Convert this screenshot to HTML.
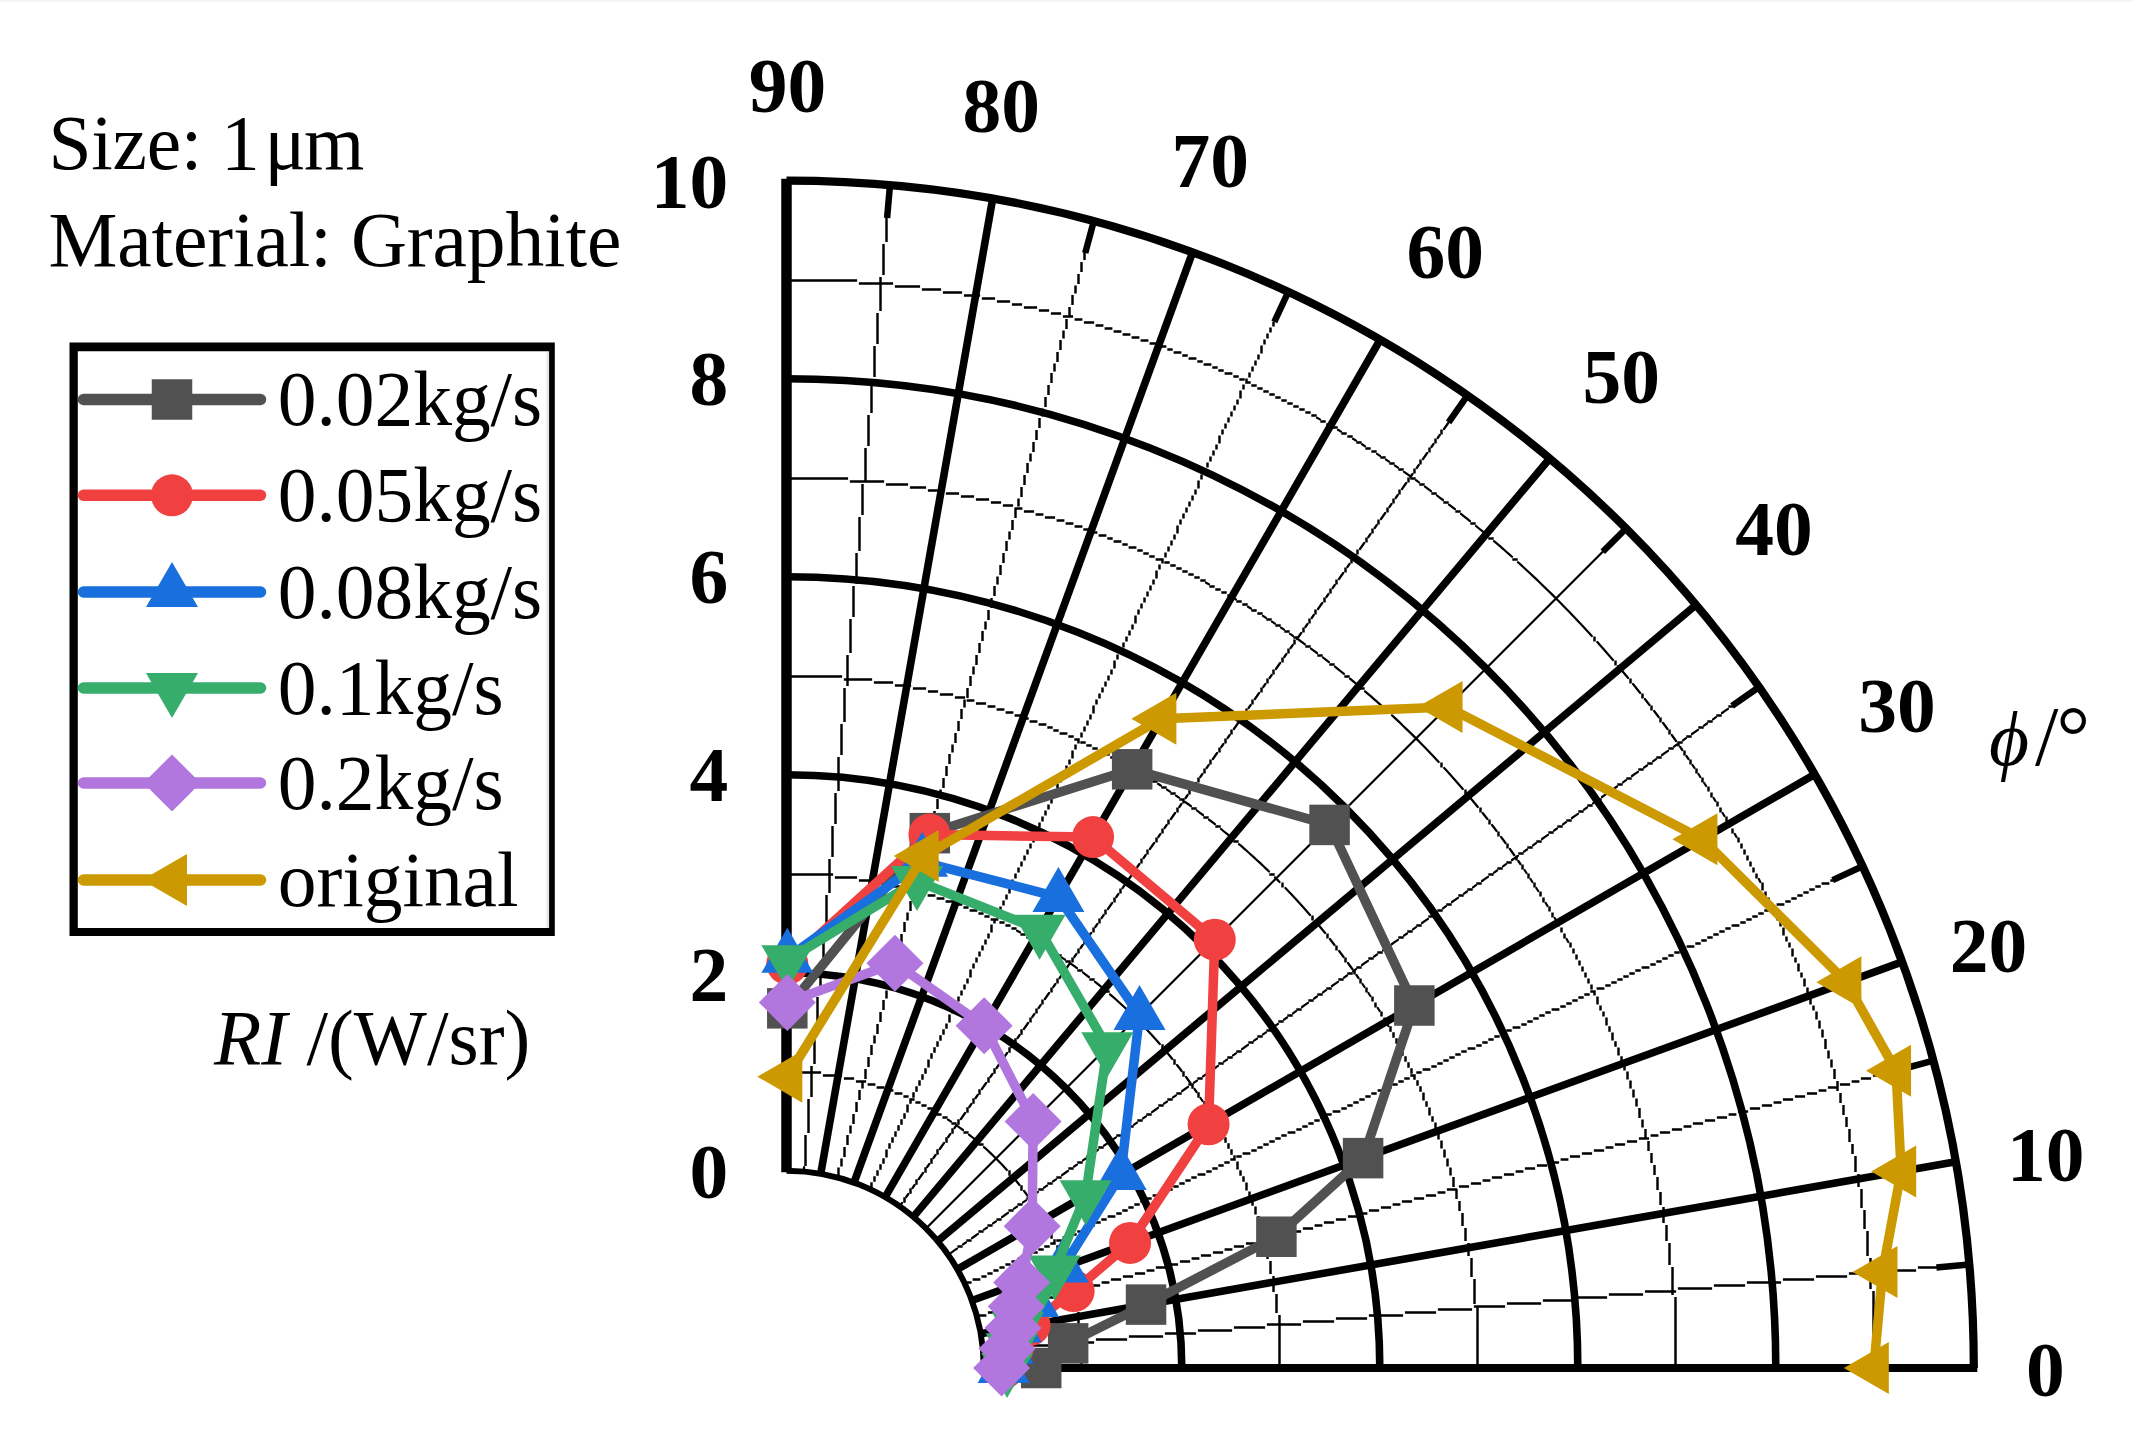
<!DOCTYPE html>
<html><head><meta charset="utf-8"><title>Polar chart</title>
<style>html,body{margin:0;padding:0;background:#fff;}body{width:2133px;height:1450px;overflow:hidden;}svg{display:block;}text{font-family:"Liberation Serif", serif;font-size:77.5px;fill:#000;}</style></head><body>
<svg width="2133" height="1450" viewBox="0 0 2133 1450">
<rect width="2133" height="1450" fill="#fff"/>
<rect width="2133" height="2" fill="#f5f5f5"/>
<g fill="none" stroke="#000">
<path stroke-width="2.45" d="M789.9 1072.5H821.1M822.9 1075.5H842.1M843.9 1078.5H854.1M855.9 1081.5H866.1M867.6 1084.5H875.4M876.6 1087.5H884.4M885.6 1090.5H893.4M894.6 1093.5H902.4M903.4 1096.5H908.6M909.4 1099.5H914.6M915.4 1102.5H920.6M921.4 1105.5H926.6M927.4 1108.5H932.6M936.4 1114.5H941.6M942.4 1117.5H947.6M951.4 1123.5H956.6M963.4 1132.5H968.6M978.4 1144.5H983.6M1009.5 1170.3V1175.7M1021.5 1185.3V1190.7M1030.5 1197.3V1202.7M1036.5 1206.3V1211.7M1042.5 1215.3V1220.7M1045.5 1221.3V1226.7M1048.5 1227.3V1232.7M1051.5 1233.3V1238.7M1054.5 1239.3V1244.7M1057.5 1245.3V1250.7M1060.5 1251.6V1259.4M1063.5 1260.3V1265.7M1066.5 1266.6V1274.4M1069.5 1275.6V1283.4M1072.5 1284.9V1295.1M1075.5 1296.9V1310.1M1078.5 1311.9V1325.1M1081.5 1326.9V1367.1M789.9 874.5H833.1M834.9 877.5H857.1M858.9 880.5H875.1M876.9 883.5H890.1M891.9 886.5H905.1M906.6 889.5H914.4M915.9 892.5H926.1M927.6 895.5H935.4M936.6 898.5H944.4M945.6 901.5H953.4M954.6 904.5H962.4M963.4 907.5H968.6M969.6 910.5H977.4M978.4 913.5H983.6M984.4 916.5H989.6M990.6 919.5H998.4M999.4 922.5H1004.6M1005.4 925.5H1010.6M1011.4 928.5H1016.6M1020.4 934.5H1025.7M1026.3 937.5H1031.7M1032.3 940.5H1037.7M1041.3 946.5H1046.7M1047.3 949.5H1052.7M1056.3 955.5H1061.7M1065.3 961.5H1070.7M1077.3 970.5H1082.7M1089.3 979.5H1094.7M1104.3 991.5H1109.7M1162.5 1044.3V1049.7M1174.5 1059.3V1064.7M1183.5 1071.3V1076.7M1192.5 1083.3V1088.7M1198.5 1092.3V1097.7M1204.5 1101.3V1106.7M1210.5 1110.3V1115.7M1213.5 1116.3V1121.7M1216.5 1122.3V1127.7M1222.5 1131.3V1136.7M1225.5 1137.3V1142.7M1228.5 1143.3V1148.7M1231.5 1149.3V1154.7M1234.5 1155.3V1160.7M1237.5 1161.6V1169.4M1240.5 1170.3V1175.7M1243.5 1176.3V1181.7M1246.5 1182.6V1190.4M1249.5 1191.6V1199.4M1252.5 1200.3V1205.7M1255.5 1206.6V1214.4M1258.5 1215.9V1226.1M1261.5 1227.6V1235.4M1264.5 1236.9V1247.1M1267.5 1248.9V1259.1M1270.5 1260.9V1274.1M1273.5 1275.9V1292.1M1276.5 1293.9V1313.1M1279.5 1314.9V1367.1M789.9 676.5H842.1M843.9 679.5H872.1M873.9 682.5H893.1M894.9 685.5H911.1M912.9 688.5H926.1M927.9 691.5H938.1M939.9 694.5H953.1M954.9 697.5H965.1M966.6 700.5H974.4M975.9 703.5H986.1M987.6 706.5H995.4M996.6 709.5H1004.4M1005.6 712.5H1013.4M1014.6 715.5H1022.4M1023.4 718.5H1028.7M1029.6 721.5H1037.4M1038.6 724.5H1046.4M1047.3 727.5H1052.7M1053.3 730.5H1058.7M1059.6 733.5H1067.4M1068.3 736.5H1073.7M1074.3 739.5H1079.7M1080.3 742.5H1085.7M1086.3 745.5H1091.7M1092.3 748.5H1097.7M1098.3 751.5H1103.7M1104.3 754.5H1109.7M1110.3 757.5H1115.7M1116.3 760.5H1121.7M1122.3 763.5H1127.7M1131.3 769.5H1136.7M1137.3 772.5H1142.7M1146.3 778.5H1151.7M1152.3 781.5H1157.7M1161.3 787.5H1166.7M1170.3 793.5H1175.7M1179.3 799.5H1184.7M1191.3 808.5H1196.7M1203.3 817.5H1208.7M1215.3 826.5H1220.7M1233.3 841.5H1238.7M1269.3 874.5H1274.7M1282.5 882.4V887.6M1312.5 915.4V920.6M1327.5 933.4V938.6M1336.5 945.4V950.6M1345.5 957.4V962.6M1354.5 969.4V974.6M1360.5 978.4V983.6M1366.5 987.4V992.6M1372.5 996.4V1001.6M1375.5 1002.4V1007.6M1381.5 1011.4V1016.6M1384.5 1017.4V1022.6M1390.5 1026.3V1031.7M1393.5 1032.3V1037.7M1396.5 1038.3V1043.7M1399.5 1044.3V1049.7M1402.5 1050.3V1055.7M1405.5 1056.3V1061.7M1408.5 1062.3V1067.7M1411.5 1068.3V1073.7M1414.5 1074.3V1079.7M1417.5 1080.3V1085.7M1420.5 1086.3V1091.7M1423.5 1092.6V1100.4M1426.5 1101.3V1106.7M1429.5 1107.6V1115.4M1432.5 1116.3V1121.7M1435.5 1122.6V1130.4M1438.5 1131.6V1139.4M1441.5 1140.6V1148.4M1444.5 1149.6V1157.4M1447.5 1158.6V1166.4M1450.5 1167.6V1175.4M1453.5 1176.9V1187.1M1456.5 1188.9V1199.1M1459.5 1200.9V1211.1M1462.5 1212.9V1226.1M1465.5 1227.9V1241.1M1468.5 1242.9V1256.1M1471.5 1257.9V1277.1M1474.5 1278.9V1304.1M1477.5 1305.9V1367.1M789.9 478.5H848.1M849.9 481.5H884.1M885.9 484.5H908.1M909.9 487.5H926.1M927.9 490.5H944.1M945.9 493.5H959.1M960.9 496.5H974.1M975.9 499.5H989.1M990.9 502.5H1001.1M1002.9 505.5H1013.1M1014.6 508.5H1022.4M1023.9 511.5H1034.1M1035.6 514.5H1043.4M1044.9 517.5H1055.1M1056.6 520.5H1064.4M1065.6 523.5H1073.4M1074.6 526.5H1082.4M1083.3 529.5H1088.7M1089.6 532.5H1097.4M1098.6 535.5H1106.4M1107.3 538.5H1112.7M1113.6 541.5H1121.4M1122.3 544.5H1127.7M1128.6 547.5H1136.4M1137.3 550.5H1142.7M1143.3 553.5H1148.7M1149.3 556.5H1154.7M1155.6 559.5H1163.4M1164.3 562.5H1169.7M1170.3 565.5H1175.7M1176.3 568.5H1181.7M1182.3 571.5H1187.7M1188.3 574.5H1193.7M1194.3 577.5H1199.7M1200.3 580.5H1205.7M1209.3 586.5H1214.7M1215.3 589.5H1220.7M1221.3 592.5H1226.7M1227.3 595.5H1232.7M1236.3 601.5H1241.7M1242.3 604.5H1247.7M1251.3 610.5H1256.7M1257.3 613.5H1262.7M1266.3 619.5H1271.7M1275.3 625.5H1280.7M1284.3 631.5H1289.7M1293.3 637.5H1298.7M1305.3 646.5H1310.7M1317.3 655.5H1322.7M1329.3 664.5H1334.7M1344.3 676.5H1349.7M1359.3 688.5H1364.7M1386.3 712.5H1391.7M1441.5 762.4V767.6M1465.5 789.4V794.6M1480.5 807.4V812.6M1489.5 819.4V824.6M1498.5 831.4V836.6M1507.5 843.4V848.6M1516.5 855.4V860.6M1522.5 864.4V869.6M1528.5 873.4V878.6M1534.5 882.4V887.6M1540.5 891.4V896.6M1543.5 897.4V902.6M1549.5 906.4V911.6M1552.5 912.4V917.6M1558.5 921.4V926.6M1561.5 927.4V932.6M1564.5 933.4V938.6M1570.5 942.4V947.6M1573.5 948.4V953.6M1576.5 954.4V959.6M1579.5 960.4V965.6M1582.5 966.4V971.6M1585.5 972.4V977.6M1588.5 978.4V983.6M1591.5 984.4V989.6M1594.5 990.4V995.6M1597.5 996.6V1004.4M1600.5 1005.4V1010.6M1603.5 1011.4V1016.6M1606.5 1017.6V1025.4M1609.5 1026.3V1031.7M1612.5 1032.6V1040.4M1615.5 1041.3V1046.7M1618.5 1047.6V1055.4M1621.5 1056.3V1061.7M1624.5 1062.6V1070.4M1627.5 1071.6V1079.4M1630.5 1080.6V1088.4M1633.5 1089.6V1097.4M1636.5 1098.6V1106.4M1639.5 1107.9V1118.1M1642.5 1119.6V1127.4M1645.5 1128.9V1139.1M1648.5 1140.9V1151.1M1651.5 1152.9V1163.1M1654.5 1164.9V1175.1M1657.5 1176.9V1190.1M1660.5 1191.9V1205.1M1663.5 1206.9V1223.1M1666.5 1224.9V1241.1M1669.5 1242.9V1265.1M1672.5 1266.9V1295.1M1675.5 1296.9V1367.1M789.9 280.5H857.1M858.9 283.5H893.1M894.9 286.5H920.1M921.9 289.5H941.1M942.9 292.5H962.1M963.9 295.5H980.1M981.9 298.5H995.1M996.9 301.5H1010.1M1011.9 304.5H1022.1M1023.9 307.5H1037.1M1038.9 310.5H1049.1M1050.9 313.5H1061.1M1062.9 316.5H1073.1M1074.6 319.5H1082.4M1083.9 322.5H1094.1M1095.6 325.5H1103.4M1104.6 328.5H1112.4M1113.6 331.5H1121.4M1122.6 334.5H1130.4M1131.6 337.5H1139.4M1140.6 340.5H1148.4M1149.6 343.5H1157.4M1158.6 346.5H1166.4M1167.3 349.5H1172.7M1173.6 352.5H1181.4M1182.3 355.5H1187.7M1188.6 358.5H1196.4M1197.3 361.5H1202.7M1203.6 364.5H1211.4M1212.3 367.5H1217.7M1218.3 370.5H1223.7M1224.6 373.5H1232.4M1233.3 376.5H1238.7M1239.3 379.5H1244.7M1245.3 382.5H1250.7M1251.3 385.5H1256.7M1257.3 388.5H1262.7M1263.3 391.5H1268.7M1269.3 394.5H1274.7M1275.3 397.5H1280.7M1281.3 400.5H1286.7M1287.3 403.5H1292.7M1293.3 406.5H1298.7M1299.3 409.5H1304.7M1305.3 412.5H1310.7M1311.3 415.5H1316.7M1320.3 421.5H1325.7M1326.3 424.5H1331.7M1332.3 427.5H1337.7M1341.3 433.5H1346.7M1347.3 436.5H1352.7M1356.3 442.5H1361.7M1365.3 448.5H1370.7M1371.3 451.5H1376.7M1380.3 457.5H1385.7M1389.3 463.5H1394.7M1398.3 469.5H1403.7M1410.3 478.5H1415.7M1419.3 484.5H1424.7M1431.3 493.5H1436.7M1443.3 502.5H1448.7M1455.3 511.5H1460.7M1470.3 523.5H1475.7M1488.3 538.5H1493.7M1512.3 559.5H1517.7M1594.5 636.4V641.6M1615.5 660.4V665.6M1630.5 678.4V683.6M1642.5 693.4V698.6M1651.5 705.4V710.6M1660.5 717.4V722.6M1669.5 729.4V734.6M1678.5 741.4V746.6M1684.5 750.4V755.6M1690.5 759.4V764.6M1696.5 768.4V773.6M1702.5 777.4V782.6M1708.5 786.4V791.6M1711.5 792.4V797.6M1717.5 801.4V806.6M1720.5 807.4V812.6M1726.5 816.4V821.6M1729.5 822.4V827.6M1732.5 828.4V833.6M1738.5 837.4V842.6M1741.5 843.4V848.6M1744.5 849.4V854.6M1747.5 855.4V860.6M1750.5 861.4V866.6M1753.5 867.4V872.6M1756.5 873.4V878.6M1762.5 882.6V890.4M1765.5 891.4V896.6M1768.5 897.4V902.6M1771.5 903.4V908.6M1774.5 909.4V914.6M1777.5 915.4V920.6M1780.5 921.4V926.6M1783.5 927.6V935.4M1786.5 936.4V941.6M1789.5 942.4V947.6M1792.5 948.6V956.4M1795.5 957.4V962.6M1798.5 963.6V971.4M1801.5 972.4V977.6M1804.5 978.6V986.4M1807.5 987.6V995.4M1810.5 996.6V1004.4M1813.5 1005.4V1010.6M1816.5 1011.6V1019.4M1819.5 1020.6V1028.4M1822.5 1029.6V1037.4M1825.5 1038.9V1049.1M1828.5 1050.6V1058.4M1831.5 1059.6V1067.4M1834.5 1068.9V1079.1M1837.5 1080.9V1091.1M1840.5 1092.9V1103.1M1843.5 1104.9V1115.1M1846.5 1116.9V1127.1M1849.5 1128.9V1142.1M1852.5 1143.9V1154.1M1855.5 1155.9V1172.1M1858.5 1173.9V1187.1M1861.5 1188.9V1208.1M1864.5 1209.9V1229.1M1867.5 1230.9V1256.1M1870.5 1257.9V1289.1M1873.5 1290.9V1367.1M984.6 1351.5H992.4M993.9 1348.5H1025.1M1026.9 1345.5H1061.1M1062.9 1342.5H1094.1M1095.9 1339.5H1127.1M1128.9 1336.5H1163.1M1164.9 1333.5H1196.1M1197.9 1330.5H1232.1M1233.9 1327.5H1265.1M1266.9 1324.5H1301.1M1302.9 1321.5H1334.1M1335.9 1318.5H1367.1M1368.9 1315.5H1403.1M1404.9 1312.5H1436.1M1437.9 1309.5H1472.1M1473.9 1306.5H1505.1M1506.9 1303.5H1541.1M1542.9 1300.5H1574.1M1575.9 1297.5H1607.1M1608.9 1294.5H1643.1M1644.9 1291.5H1676.1M1677.9 1288.5H1712.1M1713.9 1285.5H1745.1M1746.9 1282.5H1781.1M1782.9 1279.5H1814.1M1815.9 1276.5H1847.1M1848.9 1273.5H1883.1M1884.9 1270.5H1916.1M1917.9 1267.5H1952.1M1953.9 1264.5H1967.1M978.6 1315.5H986.4M987.9 1312.5H998.1M999.9 1309.5H1010.1M1011.9 1306.5H1022.1M1023.6 1303.5H1031.4M1032.9 1300.5H1043.1M1044.9 1297.5H1055.1M1056.6 1294.5H1064.4M1065.9 1291.5H1076.1M1077.9 1288.5H1088.1M1089.9 1285.5H1100.1M1101.6 1282.5H1109.4M1110.9 1279.5H1121.1M1122.9 1276.5H1133.1M1134.9 1273.5H1145.1M1146.6 1270.5H1154.4M1155.9 1267.5H1166.1M1167.9 1264.5H1178.1M1179.9 1261.5H1190.1M1191.6 1258.5H1199.4M1200.9 1255.5H1211.1M1212.9 1252.5H1223.1M1224.6 1249.5H1232.4M1233.9 1246.5H1244.1M1245.9 1243.5H1256.1M1257.9 1240.5H1268.1M1269.6 1237.5H1277.4M1278.9 1234.5H1289.1M1290.9 1231.5H1301.1M1302.9 1228.5H1313.1M1314.6 1225.5H1322.4M1323.9 1222.5H1334.1M1335.9 1219.5H1346.1M1347.9 1216.5H1358.1M1359.6 1213.5H1367.4M1368.9 1210.5H1379.1M1380.9 1207.5H1391.1M1392.6 1204.5H1400.4M1401.9 1201.5H1412.1M1413.9 1198.5H1424.1M1425.9 1195.5H1436.1M1437.6 1192.5H1445.4M1446.9 1189.5H1457.1M1458.9 1186.5H1469.1M1470.9 1183.5H1481.1M1482.6 1180.5H1490.4M1491.9 1177.5H1502.1M1503.9 1174.5H1514.1M1515.6 1171.5H1523.4M1524.9 1168.5H1535.1M1536.9 1165.5H1547.1M1548.9 1162.5H1559.1M1560.6 1159.5H1568.4M1569.9 1156.5H1580.1M1581.9 1153.5H1592.1M1593.9 1150.5H1604.1M1605.6 1147.5H1613.4M1614.9 1144.5H1625.1M1626.9 1141.5H1637.1M1638.9 1138.5H1649.1M1650.6 1135.5H1658.4M1659.9 1132.5H1670.1M1671.9 1129.5H1682.1M1683.6 1126.5H1691.4M1692.9 1123.5H1703.1M1704.9 1120.5H1715.1M1716.9 1117.5H1727.1M1728.6 1114.5H1736.4M1737.9 1111.5H1748.1M1749.9 1108.5H1760.1M1761.9 1105.5H1772.1M1773.6 1102.5H1781.4M1782.9 1099.5H1793.1M1794.9 1096.5H1805.1M1806.9 1093.5H1817.1M1818.6 1090.5H1826.4M1827.9 1087.5H1838.1M1839.9 1084.5H1850.1M1851.6 1081.5H1859.4M1860.9 1078.5H1871.1M1872.9 1075.5H1883.1M1884.9 1072.5H1895.1M1896.6 1069.5H1904.4M1905.9 1066.5H1916.1M1917.9 1063.5H1928.1M966.4 1282.5H971.6M972.6 1279.5H980.4M981.4 1276.5H986.6M987.4 1273.5H992.6M993.4 1270.5H998.6M999.4 1267.5H1004.6M1005.4 1264.5H1010.6M1011.4 1261.5H1016.6M1017.6 1258.5H1025.4M1026.3 1255.5H1031.7M1032.3 1252.5H1037.7M1038.3 1249.5H1043.7M1044.3 1246.5H1049.7M1050.3 1243.5H1055.7M1056.3 1240.5H1061.7M1062.6 1237.5H1070.4M1071.3 1234.5H1076.7M1077.3 1231.5H1082.7M1083.3 1228.5H1088.7M1089.3 1225.5H1094.7M1095.3 1222.5H1100.7M1101.3 1219.5H1106.7M1107.6 1216.5H1115.4M1116.3 1213.5H1121.7M1122.3 1210.5H1127.7M1128.3 1207.5H1133.7M1134.3 1204.5H1139.7M1140.3 1201.5H1145.7M1146.3 1198.5H1151.7M1152.6 1195.5H1160.4M1161.3 1192.5H1166.7M1167.3 1189.5H1172.7M1173.3 1186.5H1178.7M1179.3 1183.5H1184.7M1185.3 1180.5H1190.7M1191.3 1177.5H1196.7M1197.6 1174.5H1205.4M1206.3 1171.5H1211.7M1212.3 1168.5H1217.7M1218.3 1165.5H1223.7M1224.3 1162.5H1229.7M1230.3 1159.5H1235.7M1236.3 1156.5H1241.7M1242.6 1153.5H1250.4M1251.3 1150.5H1256.7M1257.3 1147.5H1262.7M1263.3 1144.5H1268.7M1269.3 1141.5H1274.7M1275.3 1138.5H1280.7M1281.3 1135.5H1286.7M1287.6 1132.5H1295.4M1296.3 1129.5H1301.7M1302.3 1126.5H1307.7M1308.3 1123.5H1313.7M1314.3 1120.5H1319.7M1320.3 1117.5H1325.7M1326.3 1114.5H1331.7M1332.6 1111.5H1340.4M1341.3 1108.5H1346.7M1347.3 1105.5H1352.7M1353.3 1102.5H1358.7M1359.3 1099.5H1364.7M1365.3 1096.5H1370.7M1371.3 1093.5H1376.7M1377.6 1090.5H1385.4M1386.3 1087.5H1391.7M1392.3 1084.5H1397.7M1398.3 1081.5H1403.7M1404.3 1078.5H1409.7M1410.3 1075.5H1415.7M1416.3 1072.5H1421.7M1422.6 1069.5H1430.4M1431.3 1066.5H1436.7M1437.3 1063.5H1442.7M1443.3 1060.5H1448.7M1449.3 1057.5H1454.7M1455.3 1054.5H1460.7M1461.3 1051.5H1466.7M1467.6 1048.5H1475.4M1476.3 1045.5H1481.7M1482.3 1042.5H1487.7M1488.3 1039.5H1493.7M1494.3 1036.5H1499.7M1500.3 1033.5H1505.7M1506.3 1030.5H1511.7M1512.6 1027.5H1520.4M1521.3 1024.5H1526.7M1527.3 1021.5H1532.7M1533.3 1018.5H1538.7M1539.3 1015.5H1544.7M1545.3 1012.5H1550.7M1551.6 1009.5H1559.4M1560.3 1006.5H1565.7M1566.3 1003.5H1571.7M1572.3 1000.5H1577.7M1578.3 997.5H1583.7M1584.3 994.5H1589.7M1590.3 991.5H1595.7M1596.6 988.5H1604.4M1605.3 985.5H1610.7M1611.3 982.5H1616.7M1617.3 979.5H1622.7M1623.3 976.5H1628.7M1629.3 973.5H1634.7M1635.3 970.5H1640.7M1641.6 967.5H1649.4M1650.3 964.5H1655.7M1656.3 961.5H1661.7M1662.3 958.5H1667.7M1668.3 955.5H1673.7M1674.3 952.5H1679.7M1680.3 949.5H1685.7M1686.6 946.5H1694.4M1695.3 943.5H1700.7M1701.3 940.5H1706.7M1707.3 937.5H1712.7M1713.3 934.5H1718.7M1719.3 931.5H1724.7M1725.3 928.5H1730.7M1731.6 925.5H1739.4M1740.3 922.5H1745.7M1746.3 919.5H1751.7M1752.3 916.5H1757.7M1758.3 913.5H1763.7M1764.3 910.5H1769.7M1770.3 907.5H1775.7M1776.6 904.5H1784.4M1785.3 901.5H1790.7M1791.3 898.5H1796.7M1797.3 895.5H1802.7M1803.3 892.5H1808.7M1809.3 889.5H1814.7M1815.3 886.5H1820.7M1821.6 883.5H1829.4M1830.3 880.5H1835.7M1836.3 877.5H1841.7M1842.3 874.5H1847.7M1848.3 871.5H1853.7M1854.3 868.5H1859.7M957.4 1246.5H962.6M966.4 1240.5H971.6M978.4 1231.5H983.6M987.4 1225.5H992.6M996.4 1219.5H1001.6M1008.4 1210.5H1013.6M1017.4 1204.5H1022.6M1026.3 1198.5H1031.7M1038.3 1189.5H1043.7M1047.3 1183.5H1052.7M1056.3 1177.5H1061.7M1068.3 1168.5H1073.7M1077.3 1162.5H1082.7M1086.3 1156.5H1091.7M1098.3 1147.5H1103.7M1107.3 1141.5H1112.7M1116.3 1135.5H1121.7M1128.3 1126.5H1133.7M1137.3 1120.5H1142.7M1146.3 1114.5H1151.7M1158.3 1105.5H1163.7M1167.3 1099.5H1172.7M1176.3 1093.5H1181.7M1188.3 1084.5H1193.7M1197.3 1078.5H1202.7M1206.3 1072.5H1211.7M1218.3 1063.5H1223.7M1227.3 1057.5H1232.7M1236.3 1051.5H1241.7M1248.3 1042.5H1253.7M1257.3 1036.5H1262.7M1266.3 1030.5H1271.7M1278.3 1021.5H1283.7M1287.3 1015.5H1292.7M1296.3 1009.5H1301.7M1308.3 1000.5H1313.7M1317.3 994.5H1322.7M1326.3 988.5H1331.7M1338.3 979.5H1343.7M1347.3 973.5H1352.7M1356.3 967.5H1361.7M1368.3 958.5H1373.7M1377.3 952.5H1382.7M1386.3 946.5H1391.7M1398.3 937.5H1403.7M1407.3 931.5H1412.7M1416.3 925.5H1421.7M1428.3 916.5H1433.7M1437.3 910.5H1442.7M1446.3 904.5H1451.7M1458.3 895.5H1463.7M1467.3 889.5H1472.7M1476.3 883.5H1481.7M1488.3 874.5H1493.7M1497.3 868.5H1502.7M1506.3 862.5H1511.7M1518.3 853.5H1523.7M1527.3 847.5H1532.7M1536.3 841.5H1541.7M1548.3 832.5H1553.7M1557.3 826.5H1562.7M1566.3 820.5H1571.7M1578.3 811.5H1583.7M1587.3 805.5H1592.7M1596.3 799.5H1601.7M1608.3 790.5H1613.7M1617.3 784.5H1622.7M1626.3 778.5H1631.7M1638.3 769.5H1643.7M1647.3 763.5H1652.7M1656.3 757.5H1661.7M1668.3 748.5H1673.7M1677.3 742.5H1682.7M1686.3 736.5H1691.7M1698.3 727.5H1703.7M1707.3 721.5H1712.7M1716.3 715.5H1721.7M1728.3 706.5H1733.7M1737.3 700.5H1742.7M1749.3 691.5H1754.7M1462.5 399.4V404.6M1456.5 408.4V413.6M1450.5 417.4V422.6M1441.5 429.4V434.6M1435.5 438.4V443.6M1429.5 447.4V452.6M1420.5 459.4V464.6M1414.5 468.4V473.6M1408.5 477.4V482.6M1399.5 489.4V494.6M1393.5 498.4V503.6M1387.5 507.4V512.6M1378.5 519.4V524.6M1372.5 528.4V533.6M1366.5 537.4V542.6M1357.5 549.4V554.6M1351.5 558.4V563.6M1345.5 567.4V572.6M1336.5 579.4V584.6M1330.5 588.4V593.6M1324.5 597.4V602.6M1315.5 609.4V614.6M1309.5 618.4V623.6M1303.5 627.4V632.6M1294.5 639.4V644.6M1288.5 648.4V653.6M1282.5 657.4V662.6M1273.5 669.4V674.6M1267.5 678.4V683.6M1261.5 687.4V692.6M1252.5 699.4V704.6M1246.5 708.4V713.6M1240.5 717.4V722.6M1231.5 729.4V734.6M1225.5 738.4V743.6M1219.5 747.4V752.6M1210.5 759.4V764.6M1204.5 768.4V773.6M1198.5 777.4V782.6M1189.5 789.4V794.6M1183.5 798.4V803.6M1177.5 807.4V812.6M1168.5 819.4V824.6M1162.5 828.4V833.6M1156.5 837.4V842.6M1147.5 849.4V854.6M1141.5 858.4V863.6M1135.5 867.4V872.6M1126.5 879.4V884.6M1120.5 888.4V893.6M1114.5 897.4V902.6M1105.5 909.4V914.6M1099.5 918.4V923.6M1093.5 927.4V932.6M1084.5 939.4V944.6M1078.5 948.4V953.6M1072.5 957.4V962.6M1063.5 969.4V974.6M1057.5 978.4V983.6M1051.5 987.4V992.6M1042.5 999.4V1004.6M1036.5 1008.4V1013.6M1030.5 1017.4V1022.6M1021.5 1029.3V1034.7M1015.5 1038.3V1043.7M1009.5 1047.3V1052.7M1000.5 1059.3V1064.7M994.5 1068.3V1073.7M988.5 1077.3V1082.7M979.5 1089.3V1094.7M973.5 1098.3V1103.7M967.5 1107.3V1112.7M958.5 1119.3V1124.7M952.5 1128.3V1133.7M946.5 1137.3V1142.7M937.5 1149.3V1154.7M931.5 1158.3V1163.7M925.5 1167.3V1172.7M916.5 1179.3V1184.7M910.5 1188.3V1193.7M904.5 1197.3V1202.7M1285.5 294.4V299.6M1282.5 300.6V308.4M1279.5 309.4V314.6M1276.5 315.4V320.6M1273.5 321.4V326.6M1270.5 327.4V332.6M1267.5 333.4V338.6M1264.5 339.4V344.6M1261.5 345.6V353.4M1258.5 354.4V359.6M1255.5 360.4V365.6M1252.5 366.4V371.6M1249.5 372.4V377.6M1246.5 378.4V383.6M1243.5 384.4V389.6M1240.5 390.6V398.4M1237.5 399.4V404.6M1234.5 405.4V410.6M1231.5 411.4V416.6M1228.5 417.4V422.6M1225.5 423.4V428.6M1222.5 429.4V434.6M1219.5 435.6V443.4M1216.5 444.4V449.6M1213.5 450.4V455.6M1210.5 456.4V461.6M1207.5 462.4V467.6M1204.5 468.4V473.6M1201.5 474.4V479.6M1198.5 480.6V488.4M1195.5 489.4V494.6M1192.5 495.4V500.6M1189.5 501.4V506.6M1186.5 507.4V512.6M1183.5 513.4V518.6M1180.5 519.4V524.6M1177.5 525.6V533.4M1174.5 534.4V539.6M1171.5 540.4V545.6M1168.5 546.4V551.6M1165.5 552.4V557.6M1162.5 558.4V563.6M1159.5 564.4V569.6M1156.5 570.6V578.4M1153.5 579.4V584.6M1150.5 585.4V590.6M1147.5 591.4V596.6M1144.5 597.4V602.6M1141.5 603.4V608.6M1138.5 609.4V614.6M1135.5 615.6V623.4M1132.5 624.4V629.6M1129.5 630.4V635.6M1126.5 636.4V641.6M1123.5 642.4V647.6M1120.5 648.4V653.6M1117.5 654.4V659.6M1114.5 660.6V668.4M1111.5 669.4V674.6M1108.5 675.4V680.6M1105.5 681.4V686.6M1102.5 687.4V692.6M1099.5 693.4V698.6M1096.5 699.4V704.6M1093.5 705.6V713.4M1090.5 714.4V719.6M1087.5 720.4V725.6M1084.5 726.4V731.6M1081.5 732.4V737.6M1078.5 738.4V743.6M1075.5 744.4V749.6M1072.5 750.6V758.4M1069.5 759.4V764.6M1066.5 765.4V770.6M1063.5 771.4V776.6M1060.5 777.4V782.6M1057.5 783.4V788.6M1054.5 789.4V794.6M1051.5 795.6V803.4M1048.5 804.4V809.6M1045.5 810.4V815.6M1042.5 816.4V821.6M1039.5 822.4V827.6M1036.5 828.4V833.6M1033.5 834.6V842.4M1030.5 843.4V848.6M1027.5 849.4V854.6M1024.5 855.4V860.6M1021.5 861.4V866.6M1018.5 867.4V872.6M1015.5 873.4V878.6M1012.5 879.6V887.4M1009.5 888.4V893.6M1006.5 894.4V899.6M1003.5 900.4V905.6M1000.5 906.4V911.6M997.5 912.4V917.6M994.5 918.4V923.6M991.5 924.6V932.4M988.5 933.4V938.6M985.5 939.4V944.6M982.5 945.4V950.6M979.5 951.4V956.6M976.5 957.4V962.6M973.5 963.4V968.6M970.5 969.6V977.4M967.5 978.4V983.6M964.5 984.4V989.6M961.5 990.4V995.6M958.5 996.4V1001.6M955.5 1002.4V1007.6M952.5 1008.4V1013.6M949.5 1014.6V1022.4M946.5 1023.4V1028.7M943.5 1029.3V1034.7M940.5 1035.3V1040.7M937.5 1041.3V1046.7M934.5 1047.3V1052.7M931.5 1053.3V1058.7M928.5 1059.6V1067.4M925.5 1068.3V1073.7M922.5 1074.3V1079.7M919.5 1080.3V1085.7M916.5 1086.3V1091.7M913.5 1092.3V1097.7M910.5 1098.3V1103.7M907.5 1104.6V1112.4M904.5 1113.3V1118.7M901.5 1119.3V1124.7M898.5 1125.3V1130.7M895.5 1131.3V1136.7M892.5 1137.3V1142.7M889.5 1143.3V1148.7M886.5 1149.6V1157.4M883.5 1158.3V1163.7M880.5 1164.3V1169.7M877.5 1170.3V1175.7M874.5 1176.3V1181.7M871.5 1182.3V1187.7M1093.5 222.3V227.7M1090.5 228.9V239.1M1087.5 240.6V248.4M1084.5 249.9V260.1M1081.5 261.9V272.1M1078.5 273.9V284.1M1075.5 285.6V293.4M1072.5 294.9V305.1M1069.5 306.9V317.1M1066.5 318.9V329.1M1063.5 330.6V338.4M1060.5 339.9V350.1M1057.5 351.9V362.1M1054.5 363.6V371.4M1051.5 372.9V383.1M1048.5 384.9V395.1M1045.5 396.9V407.1M1042.5 408.6V416.4M1039.5 417.9V428.1M1036.5 429.9V440.1M1033.5 441.9V452.1M1030.5 453.6V461.4M1027.5 462.9V473.1M1024.5 474.9V485.1M1021.5 486.9V497.1M1018.5 498.6V506.4M1015.5 507.9V518.1M1012.5 519.9V530.1M1009.5 531.6V539.4M1006.5 540.9V551.1M1003.5 552.9V563.1M1000.5 564.9V575.1M997.5 576.6V584.4M994.5 585.9V596.1M991.5 597.9V608.1M988.5 609.9V620.1M985.5 621.6V629.4M982.5 630.9V641.1M979.5 642.9V653.1M976.5 654.9V665.1M973.5 666.6V674.4M970.5 675.9V686.1M967.5 687.9V698.1M964.5 699.6V707.4M961.5 708.9V719.1M958.5 720.9V731.1M955.5 732.9V743.1M952.5 744.6V752.4M949.5 753.9V764.1M946.5 765.9V776.1M943.5 777.9V788.1M940.5 789.6V797.4M937.5 798.9V809.1M934.5 810.9V821.1M931.5 822.6V830.4M928.5 831.9V842.1M925.5 843.9V854.1M922.5 855.9V866.1M919.5 867.6V875.4M916.5 876.9V887.1M913.5 888.9V899.1M910.5 900.9V911.1M907.5 912.6V920.4M904.5 921.9V932.1M901.5 933.9V944.1M898.5 945.9V956.1M895.5 957.6V965.4M892.5 966.9V977.1M889.5 978.9V989.1M886.5 990.6V998.4M883.5 999.9V1010.1M880.5 1011.9V1022.1M877.5 1023.9V1034.1M874.5 1035.6V1043.4M871.5 1044.9V1055.1M868.5 1056.9V1067.1M865.5 1068.9V1079.1M862.5 1080.6V1088.4M859.5 1089.9V1100.1M856.5 1101.9V1112.1M853.5 1113.9V1124.1M850.5 1125.6V1133.4M847.5 1134.9V1145.1M844.5 1146.9V1157.1M841.5 1158.6V1166.4M838.5 1167.6V1175.4M889.5 186.9V206.1M886.5 207.9V242.1M883.5 243.9V275.1M880.5 276.9V311.1M877.5 312.9V344.1M874.5 345.9V377.1M871.5 378.9V413.1M868.5 414.9V446.1M865.5 447.9V482.1M862.5 483.9V515.1M859.5 516.9V551.1M856.5 552.9V584.1M853.5 585.9V617.1M850.5 618.9V653.1M847.5 654.9V686.1M844.5 687.9V722.1M841.5 723.9V755.1M838.5 756.9V791.1M835.5 792.9V824.1M832.5 825.9V857.1M829.5 858.9V893.1M826.5 894.9V926.1M823.5 927.9V962.1M820.5 963.9V995.1M817.5 996.9V1031.1M814.5 1032.9V1064.1M811.5 1065.9V1097.1M808.5 1098.9V1133.1M805.5 1134.9V1166.1"/>
<path stroke-width="2.2" stroke-linecap="round" d="M933.0 1110.5L936.0 1112.2M948.0 1119.6L951.0 1121.6M957.0 1125.7L960.0 1127.8M960.0 1127.8L963.0 1130.0M969.0 1134.6L972.0 1137.0M972.0 1137.0L975.0 1139.4M975.0 1139.4L978.0 1141.9M984.0 1147.1L987.0 1149.8M987.0 1149.8L990.0 1152.6M990.0 1152.6L993.0 1155.5M993.0 1155.5L996.0 1158.5M996.0 1158.5L999.0 1161.5M998.5 1161.0L1001.4 1164.0M1001.4 1164.0L1004.2 1167.0M1004.2 1167.0L1006.9 1170.0M1012.2 1176.0L1014.7 1179.0M1014.7 1179.0L1017.1 1182.0M1017.1 1182.0L1019.5 1185.0M1024.1 1191.0L1026.3 1194.0M1026.3 1194.0L1028.5 1197.0M1032.6 1203.0L1034.6 1206.0M1038.4 1212.0L1040.2 1215.0M1017.0 930.7L1020.0 932.3M1038.0 942.5L1041.0 944.3M1053.0 951.7L1056.0 953.6M1062.0 957.6L1065.0 959.6M1071.0 963.8L1074.0 965.9M1074.0 965.9L1077.0 968.1M1083.0 972.5L1086.0 974.8M1086.0 974.8L1089.0 977.1M1095.0 981.8L1098.0 984.2M1098.0 984.2L1101.0 986.7M1101.0 986.7L1104.0 989.2M1110.0 994.3L1113.0 996.9M1113.0 996.9L1116.0 999.5M1116.0 999.5L1119.0 1002.2M1119.0 1002.2L1122.0 1005.0M1122.0 1005.0L1125.0 1007.8M1125.0 1007.8L1128.0 1010.6M1128.0 1010.6L1131.0 1013.5M1131.0 1013.5L1134.0 1016.5M1134.0 1016.5L1137.0 1019.5M1137.5 1020.0L1140.5 1023.0M1140.5 1023.0L1143.4 1026.0M1143.4 1026.0L1146.2 1029.0M1146.2 1029.0L1149.0 1032.0M1149.0 1032.0L1151.8 1035.0M1151.8 1035.0L1154.5 1038.0M1154.5 1038.0L1157.2 1041.0M1157.2 1041.0L1159.8 1044.0M1164.9 1050.0L1167.4 1053.0M1167.4 1053.0L1169.9 1056.0M1169.9 1056.0L1172.3 1059.0M1177.0 1065.0L1179.4 1068.0M1179.4 1068.0L1181.6 1071.0M1186.1 1077.0L1188.2 1080.0M1188.2 1080.0L1190.4 1083.0M1194.5 1089.0L1196.6 1092.0M1200.5 1098.0L1202.5 1101.0M1206.3 1107.0L1208.1 1110.0M1218.6 1128.0L1220.3 1131.0M1128.0 765.8L1131.0 767.5M1143.0 774.5L1146.0 776.4M1158.0 783.8L1161.0 785.7M1167.0 789.6L1170.0 791.6M1176.0 795.7L1179.0 797.7M1185.0 801.9L1188.0 804.0M1188.0 804.0L1191.0 806.2M1197.0 810.5L1200.0 812.8M1200.0 812.8L1203.0 815.0M1209.0 819.6L1212.0 821.9M1212.0 821.9L1215.0 824.2M1221.0 829.0L1224.0 831.5M1224.0 831.5L1227.0 833.9M1227.0 833.9L1230.0 836.4M1230.0 836.4L1233.0 838.9M1239.0 844.1L1242.0 846.7M1242.0 846.7L1245.0 849.3M1245.0 849.3L1248.0 852.0M1248.0 852.0L1251.0 854.7M1251.0 854.7L1254.0 857.4M1254.0 857.4L1257.0 860.2M1257.0 860.2L1260.0 862.9M1260.0 862.9L1263.0 865.8M1263.0 865.8L1266.0 868.6M1266.0 868.6L1269.0 871.5M1275.0 877.4L1278.0 880.4M1276.6 879.0L1279.5 882.0M1285.4 888.0L1288.2 891.0M1288.2 891.0L1291.1 894.0M1291.1 894.0L1293.9 897.0M1293.9 897.0L1296.7 900.0M1296.7 900.0L1299.4 903.0M1299.4 903.0L1302.1 906.0M1302.1 906.0L1304.8 909.0M1304.8 909.0L1307.4 912.0M1307.4 912.0L1310.0 915.0M1315.1 921.0L1317.7 924.0M1317.7 924.0L1320.2 927.0M1320.2 927.0L1322.6 930.0M1322.6 930.0L1325.1 933.0M1329.9 939.0L1332.2 942.0M1332.2 942.0L1334.5 945.0M1339.1 951.0L1341.4 954.0M1341.4 954.0L1343.6 957.0M1348.0 963.0L1350.1 966.0M1350.1 966.0L1352.3 969.0M1356.4 975.0L1358.5 978.0M1362.5 984.0L1364.5 987.0M1368.4 993.0L1370.4 996.0M1377.8 1008.0L1379.7 1011.0M1386.7 1023.0L1388.4 1026.0M1206.0 582.7L1209.0 584.3M1233.0 597.8L1236.0 599.5M1248.0 606.7L1251.0 608.5M1263.0 615.9L1266.0 617.9M1272.0 621.7L1275.0 623.7M1281.0 627.7L1284.0 629.7M1290.0 633.8L1293.0 635.8M1299.0 640.0L1302.0 642.1M1302.0 642.1L1305.0 644.3M1311.0 648.6L1314.0 650.8M1314.0 650.8L1317.0 653.0M1323.0 657.5L1326.0 659.8M1326.0 659.8L1329.0 662.1M1335.0 666.7L1338.0 669.1M1338.0 669.1L1341.0 671.5M1341.0 671.5L1344.0 673.9M1350.0 678.7L1353.0 681.2M1353.0 681.2L1356.0 683.7M1356.0 683.7L1359.0 686.2M1365.0 691.3L1368.0 693.8M1368.0 693.8L1371.0 696.4M1371.0 696.4L1374.0 699.1M1374.0 699.1L1377.0 701.7M1377.0 701.7L1380.0 704.4M1380.0 704.4L1383.0 707.1M1383.0 707.1L1386.0 709.8M1392.0 715.3L1395.0 718.1M1395.0 718.1L1398.0 720.9M1398.0 720.9L1401.0 723.8M1401.0 723.8L1404.0 726.7M1404.0 726.7L1407.0 729.6M1407.0 729.6L1410.0 732.5M1410.0 732.5L1413.0 735.4M1413.0 735.4L1416.0 738.4M1416.0 738.4L1419.0 741.4M1418.6 741.0L1421.5 744.0M1421.5 744.0L1424.5 747.0M1424.5 747.0L1427.4 750.0M1427.4 750.0L1430.2 753.0M1430.2 753.0L1433.1 756.0M1433.1 756.0L1435.9 759.0M1435.9 759.0L1438.7 762.0M1444.2 768.0L1447.0 771.0M1447.0 771.0L1449.7 774.0M1449.7 774.0L1452.3 777.0M1452.3 777.0L1455.0 780.0M1455.0 780.0L1457.6 783.0M1457.6 783.0L1460.2 786.0M1460.2 786.0L1462.8 789.0M1467.9 795.0L1470.4 798.0M1470.4 798.0L1472.9 801.0M1472.9 801.0L1475.4 804.0M1475.4 804.0L1477.8 807.0M1482.6 813.0L1485.0 816.0M1485.0 816.0L1487.4 819.0M1492.0 825.0L1494.3 828.0M1494.3 828.0L1496.6 831.0M1501.1 837.0L1503.3 840.0M1503.3 840.0L1505.5 843.0M1509.9 849.0L1512.0 852.0M1512.0 852.0L1514.1 855.0M1518.3 861.0L1520.4 864.0M1524.5 870.0L1526.5 873.0M1530.5 879.0L1532.4 882.0M1536.3 888.0L1538.2 891.0M1545.7 903.0L1547.5 906.0M1554.7 918.0L1556.5 921.0M1566.6 939.0L1568.3 942.0M1317.0 417.8L1320.0 419.4M1338.0 429.8L1341.0 431.6M1353.0 438.8L1356.0 440.6M1362.0 444.3L1365.0 446.2M1377.0 453.8L1380.0 455.8M1386.0 459.7L1389.0 461.7M1395.0 465.7L1398.0 467.7M1404.0 471.8L1407.0 473.9M1407.0 473.9L1410.0 476.0M1416.0 480.2L1419.0 482.4M1425.0 486.7L1428.0 488.9M1428.0 488.9L1431.0 491.1M1437.0 495.5L1440.0 497.8M1440.0 497.8L1443.0 500.0M1449.0 504.6L1452.0 506.9M1452.0 506.9L1455.0 509.2M1461.0 513.9L1464.0 516.3M1464.0 516.3L1467.0 518.7M1467.0 518.7L1470.0 521.1M1476.0 526.0L1479.0 528.5M1479.0 528.5L1482.0 530.9M1482.0 530.9L1485.0 533.4M1485.0 533.4L1488.0 536.0M1494.0 541.1L1497.0 543.6M1497.0 543.6L1500.0 546.2M1500.0 546.2L1503.0 548.8M1503.0 548.8L1506.0 551.5M1506.0 551.5L1509.0 554.1M1509.0 554.1L1512.0 556.8M1518.0 562.2L1521.0 564.9M1521.0 564.9L1524.0 567.7M1524.0 567.7L1527.0 570.5M1527.0 570.5L1530.0 573.3M1530.0 573.3L1533.0 576.1M1533.0 576.1L1536.0 578.9M1536.0 578.9L1539.0 581.8M1539.0 581.8L1542.0 584.7M1542.0 584.7L1545.0 587.6M1545.0 587.6L1548.0 590.5M1548.0 590.5L1551.0 593.4M1551.0 593.4L1554.0 596.4M1554.0 596.4L1557.0 599.4M1557.6 600.0L1560.6 603.0M1560.6 603.0L1563.5 606.0M1563.5 606.0L1566.4 609.0M1566.4 609.0L1569.4 612.0M1569.4 612.0L1572.2 615.0M1572.2 615.0L1575.1 618.0M1575.1 618.0L1577.9 621.0M1577.9 621.0L1580.8 624.0M1580.8 624.0L1583.6 627.0M1583.6 627.0L1586.3 630.0M1586.3 630.0L1589.1 633.0M1589.1 633.0L1591.8 636.0M1597.3 642.0L1599.9 645.0M1599.9 645.0L1602.6 648.0M1602.6 648.0L1605.2 651.0M1605.2 651.0L1607.8 654.0M1607.8 654.0L1610.4 657.0M1610.4 657.0L1613.0 660.0M1618.1 666.0L1620.6 669.0M1620.6 669.0L1623.1 672.0M1623.1 672.0L1625.6 675.0M1625.6 675.0L1628.1 678.0M1633.0 684.0L1635.4 687.0M1635.4 687.0L1637.8 690.0M1637.8 690.0L1640.2 693.0M1644.9 699.0L1647.2 702.0M1647.2 702.0L1649.5 705.0M1654.1 711.0L1656.4 714.0M1656.4 714.0L1658.6 717.0M1663.1 723.0L1665.3 726.0M1665.3 726.0L1667.5 729.0M1671.8 735.0L1673.9 738.0M1673.9 738.0L1676.0 741.0M1680.2 747.0L1682.3 750.0M1686.4 756.0L1688.5 759.0M1692.5 765.0L1694.5 768.0M1698.4 774.0L1700.3 777.0M1704.2 783.0L1706.1 786.0M1713.6 798.0L1715.4 801.0M1722.6 813.0L1724.4 816.0M1734.8 834.0L1736.5 837.0M1758.8 879.0L1760.3 882.0M1929.0 1061.9L1932.0 1061.1M951.0 1252.8L954.0 1250.7M954.0 1250.7L957.0 1248.6M963.0 1244.4L966.0 1242.3M972.0 1238.1L975.0 1236.0M975.0 1236.0L978.0 1233.9M984.0 1229.7L987.0 1227.6M993.0 1223.4L996.0 1221.3M1002.0 1217.1L1005.0 1215.0M1005.0 1215.0L1008.0 1212.9M1014.0 1208.7L1017.0 1206.6M1023.0 1202.4L1026.0 1200.3M1032.0 1196.1L1035.0 1194.0M1035.0 1194.0L1038.0 1191.9M1044.0 1187.7L1047.0 1185.6M1053.0 1181.4L1056.0 1179.3M1062.0 1175.1L1065.0 1173.0M1065.0 1173.0L1068.0 1170.9M1074.0 1166.7L1077.0 1164.6M1083.0 1160.4L1086.0 1158.3M1092.0 1154.1L1095.0 1152.0M1095.0 1152.0L1098.0 1149.9M1104.0 1145.7L1107.0 1143.6M1113.0 1139.4L1116.0 1137.3M1122.0 1133.1L1125.0 1131.0M1125.0 1131.0L1128.0 1128.9M1134.0 1124.7L1137.0 1122.6M1143.0 1118.4L1146.0 1116.3M1152.0 1112.1L1155.0 1110.0M1155.0 1110.0L1158.0 1107.9M1164.0 1103.7L1167.0 1101.6M1173.0 1097.4L1176.0 1095.3M1182.0 1091.1L1185.0 1089.0M1185.0 1089.0L1188.0 1086.9M1194.0 1082.7L1197.0 1080.6M1203.0 1076.4L1206.0 1074.3M1212.0 1070.1L1215.0 1068.0M1215.0 1068.0L1218.0 1065.9M1224.0 1061.7L1227.0 1059.6M1233.0 1055.4L1236.0 1053.3M1242.0 1049.1L1245.0 1047.0M1245.0 1047.0L1248.0 1044.9M1254.0 1040.7L1257.0 1038.6M1263.0 1034.4L1266.0 1032.3M1272.0 1028.0L1275.0 1025.9M1275.0 1025.9L1278.0 1023.8M1284.0 1019.6L1287.0 1017.5M1293.0 1013.3L1296.0 1011.2M1302.0 1007.0L1305.0 1004.9M1305.0 1004.9L1308.0 1002.8M1314.0 998.6L1317.0 996.5M1323.0 992.3L1326.0 990.2M1332.0 986.0L1335.0 983.9M1335.0 983.9L1338.0 981.8M1344.0 977.6L1347.0 975.5M1353.0 971.3L1356.0 969.2M1362.0 965.0L1365.0 962.9M1365.0 962.9L1368.0 960.8M1374.0 956.6L1377.0 954.5M1383.0 950.3L1386.0 948.2M1392.0 944.0L1395.0 941.9M1395.0 941.9L1398.0 939.8M1404.0 935.6L1407.0 933.5M1413.0 929.3L1416.0 927.2M1422.0 923.0L1425.0 920.9M1425.0 920.9L1428.0 918.8M1434.0 914.6L1437.0 912.5M1443.0 908.3L1446.0 906.2M1452.0 902.0L1455.0 899.9M1455.0 899.9L1458.0 897.8M1464.0 893.6L1467.0 891.5M1473.0 887.3L1476.0 885.2M1482.0 881.0L1485.0 878.9M1485.0 878.9L1488.0 876.8M1494.0 872.6L1497.0 870.5M1503.0 866.3L1506.0 864.2M1512.0 860.0L1515.0 857.9M1515.0 857.9L1518.0 855.8M1524.0 851.6L1527.0 849.5M1533.0 845.3L1536.0 843.2M1542.0 839.0L1545.0 836.9M1545.0 836.9L1548.0 834.8M1554.0 830.6L1557.0 828.5M1563.0 824.3L1566.0 822.2M1572.0 818.0L1575.0 815.9M1575.0 815.9L1578.0 813.8M1584.0 809.6L1587.0 807.5M1593.0 803.3L1596.0 801.2M1602.0 797.0L1605.0 794.9M1605.0 794.9L1608.0 792.8M1614.0 788.6L1617.0 786.5M1623.0 782.3L1626.0 780.2M1632.0 776.0L1635.0 773.9M1635.0 773.9L1638.0 771.8M1644.0 767.6L1647.0 765.5M1653.0 761.3L1656.0 759.2M1662.0 755.0L1665.0 752.9M1665.0 752.9L1668.0 750.8M1674.0 746.6L1677.0 744.5M1683.0 740.3L1686.0 738.2M1692.0 734.0L1695.0 731.9M1695.0 731.9L1698.0 729.8M1704.0 725.6L1707.0 723.5M1713.0 719.3L1716.0 717.2M1722.0 713.0L1725.0 710.9M1725.0 710.9L1728.0 708.8M1734.0 704.6L1737.0 702.5M1743.0 698.3L1746.0 696.2M1746.0 696.2L1749.0 694.1M1755.0 689.8L1758.0 687.7M1623.5 531.0L1620.5 534.0M1620.5 534.0L1617.5 537.0M1617.5 537.0L1614.5 540.0M1614.5 540.0L1611.5 543.0M1611.5 543.0L1608.5 546.0M1608.5 546.0L1605.5 549.0M1605.5 549.0L1602.5 552.0M1602.5 552.0L1599.5 555.0M1599.5 555.0L1596.5 558.0M1596.5 558.0L1593.5 561.0M1593.5 561.0L1590.5 564.0M1590.5 564.0L1587.5 567.0M1587.5 567.0L1584.5 570.0M1584.5 570.0L1581.5 573.0M1581.5 573.0L1578.5 576.0M1578.5 576.0L1575.5 579.0M1575.5 579.0L1572.5 582.0M1572.5 582.0L1569.5 585.0M1569.5 585.0L1566.5 588.0M1566.5 588.0L1563.5 591.0M1563.5 591.0L1560.5 594.0M1560.5 594.0L1557.5 597.0M1557.5 597.0L1554.5 600.0M1554.5 600.0L1551.5 603.0M1551.5 603.0L1548.5 606.0M1548.5 606.0L1545.5 609.0M1545.5 609.0L1542.5 612.0M1542.5 612.0L1539.5 615.0M1539.5 615.0L1536.5 618.0M1536.5 618.0L1533.5 621.0M1533.5 621.0L1530.5 624.0M1530.5 624.0L1527.5 627.0M1527.5 627.0L1524.5 630.0M1524.5 630.0L1521.5 633.0M1521.5 633.0L1518.5 636.0M1518.5 636.0L1515.5 639.0M1515.5 639.0L1512.5 642.0M1512.5 642.0L1509.5 645.0M1509.5 645.0L1506.5 648.0M1506.5 648.0L1503.5 651.0M1503.5 651.0L1500.5 654.0M1500.5 654.0L1497.5 657.0M1497.5 657.0L1494.5 660.0M1494.5 660.0L1491.5 663.0M1491.5 663.0L1488.5 666.0M1488.5 666.0L1485.5 669.0M1485.5 669.0L1482.5 672.0M1482.5 672.0L1479.5 675.0M1479.5 675.0L1476.5 678.0M1476.5 678.0L1473.5 681.0M1473.5 681.0L1470.5 684.0M1470.5 684.0L1467.5 687.0M1467.5 687.0L1464.5 690.0M1464.5 690.0L1461.5 693.0M1461.5 693.0L1458.5 696.0M1458.5 696.0L1455.5 699.0M1455.5 699.0L1452.5 702.0M1452.5 702.0L1449.5 705.0M1449.5 705.0L1446.5 708.0M1446.5 708.0L1443.5 711.0M1443.5 711.0L1440.5 714.0M1440.5 714.0L1437.5 717.0M1437.5 717.0L1434.5 720.0M1434.5 720.0L1431.5 723.0M1431.5 723.0L1428.5 726.0M1428.5 726.0L1425.5 729.0M1425.5 729.0L1422.5 732.0M1422.5 732.0L1419.5 735.0M1419.5 735.0L1416.5 738.0M1416.5 738.0L1413.5 741.0M1413.5 741.0L1410.5 744.0M1410.5 744.0L1407.5 747.0M1407.5 747.0L1404.5 750.0M1404.5 750.0L1401.5 753.0M1401.5 753.0L1398.5 756.0M1398.5 756.0L1395.5 759.0M1395.5 759.0L1392.5 762.0M1392.5 762.0L1389.5 765.0M1389.5 765.0L1386.5 768.0M1386.5 768.0L1383.5 771.0M1383.5 771.0L1380.5 774.0M1380.5 774.0L1377.5 777.0M1377.5 777.0L1374.5 780.0M1374.5 780.0L1371.5 783.0M1371.5 783.0L1368.5 786.0M1368.5 786.0L1365.5 789.0M1365.5 789.0L1362.5 792.0M1362.5 792.0L1359.5 795.0M1359.5 795.0L1356.5 798.0M1356.5 798.0L1353.5 801.0M1353.5 801.0L1350.5 804.0M1350.5 804.0L1347.5 807.0M1347.5 807.0L1344.5 810.0M1344.5 810.0L1341.5 813.0M1341.5 813.0L1338.5 816.0M1338.5 816.0L1335.5 819.0M1335.5 819.0L1332.5 822.0M1332.5 822.0L1329.5 825.0M1329.5 825.0L1326.5 828.0M1326.5 828.0L1323.5 831.0M1323.5 831.0L1320.5 834.0M1320.5 834.0L1317.5 837.0M1317.5 837.0L1314.5 840.0M1314.5 840.0L1311.5 843.0M1311.5 843.0L1308.5 846.0M1308.5 846.0L1305.5 849.0M1305.5 849.0L1302.5 852.0M1302.5 852.0L1299.5 855.0M1299.5 855.0L1296.5 858.0M1296.5 858.0L1293.5 861.0M1293.5 861.0L1290.5 864.0M1290.5 864.0L1287.5 867.0M1287.5 867.0L1284.5 870.0M1284.5 870.0L1281.5 873.0M1281.5 873.0L1278.5 876.0M1278.5 876.0L1275.5 879.0M1275.5 879.0L1272.5 882.0M1272.5 882.0L1269.5 885.0M1269.5 885.0L1266.5 888.0M1266.5 888.0L1263.5 891.0M1263.5 891.0L1260.5 894.0M1260.5 894.0L1257.5 897.0M1257.5 897.0L1254.5 900.0M1254.5 900.0L1251.5 903.0M1251.5 903.0L1248.5 906.0M1248.5 906.0L1245.5 909.0M1245.5 909.0L1242.5 912.0M1242.5 912.0L1239.5 915.0M1239.5 915.0L1236.5 918.0M1236.5 918.0L1233.5 921.0M1233.5 921.0L1230.5 924.0M1230.5 924.0L1227.5 927.0M1227.5 927.0L1224.5 930.0M1224.5 930.0L1221.5 933.0M1221.5 933.0L1218.5 936.0M1218.5 936.0L1215.5 939.0M1215.5 939.0L1212.5 942.0M1212.5 942.0L1209.5 945.0M1209.5 945.0L1206.5 948.0M1206.5 948.0L1203.5 951.0M1203.5 951.0L1200.5 954.0M1200.5 954.0L1197.5 957.0M1197.5 957.0L1194.5 960.0M1194.5 960.0L1191.5 963.0M1191.5 963.0L1188.5 966.0M1188.5 966.0L1185.5 969.0M1185.5 969.0L1182.5 972.0M1182.5 972.0L1179.5 975.0M1179.5 975.0L1176.5 978.0M1176.5 978.0L1173.5 981.0M1173.5 981.0L1170.5 984.0M1170.5 984.0L1167.5 987.0M1167.5 987.0L1164.5 990.0M1164.5 990.0L1161.5 993.0M1161.5 993.0L1158.5 996.0M1158.5 996.0L1155.5 999.0M1155.5 999.0L1152.5 1002.0M1152.5 1002.0L1149.5 1005.0M1149.5 1005.0L1146.5 1008.0M1146.5 1008.0L1143.5 1011.0M1143.5 1011.0L1140.5 1014.0M1140.5 1014.0L1137.5 1017.0M1137.5 1017.0L1134.5 1020.0M1134.5 1020.0L1131.5 1023.0M1131.5 1023.0L1128.5 1026.0M1128.5 1026.0L1125.5 1029.0M1125.5 1029.0L1122.5 1032.0M1122.5 1032.0L1119.5 1035.0M1119.5 1035.0L1116.5 1038.0M1116.5 1038.0L1113.5 1041.0M1113.5 1041.0L1110.5 1044.0M1110.5 1044.0L1107.5 1047.0M1107.5 1047.0L1104.5 1050.0M1104.5 1050.0L1101.5 1053.0M1101.5 1053.0L1098.5 1056.0M1098.5 1056.0L1095.5 1059.0M1095.5 1059.0L1092.5 1062.0M1092.5 1062.0L1089.5 1065.0M1089.5 1065.0L1086.5 1068.0M1086.5 1068.0L1083.5 1071.0M1083.5 1071.0L1080.5 1074.0M1080.5 1074.0L1077.5 1077.0M1077.5 1077.0L1074.5 1080.0M1074.5 1080.0L1071.5 1083.0M1071.5 1083.0L1068.5 1086.0M1068.5 1086.0L1065.5 1089.0M1065.5 1089.0L1062.5 1092.0M1062.5 1092.0L1059.5 1095.0M1059.5 1095.0L1056.5 1098.0M1056.5 1098.0L1053.5 1101.0M1053.5 1101.0L1050.5 1104.0M1050.5 1104.0L1047.5 1107.0M1047.5 1107.0L1044.5 1110.0M1044.5 1110.0L1041.5 1113.0M1041.5 1113.0L1038.5 1116.0M1038.5 1116.0L1035.5 1119.0M1035.5 1119.0L1032.5 1122.0M1032.5 1122.0L1029.5 1125.0M1029.5 1125.0L1026.5 1128.0M1026.5 1128.0L1023.5 1131.0M1023.5 1131.0L1020.5 1134.0M1020.5 1134.0L1017.5 1137.0M1017.5 1137.0L1014.5 1140.0M1014.5 1140.0L1011.5 1143.0M1011.5 1143.0L1008.5 1146.0M1008.5 1146.0L1005.5 1149.0M1005.5 1149.0L1002.5 1152.0M1002.5 1152.0L999.5 1155.0M999.5 1155.0L996.5 1158.0M996.5 1158.0L993.5 1161.0M993.5 1161.0L990.5 1164.0M990.5 1164.0L987.5 1167.0M987.5 1167.0L984.5 1170.0M984.5 1170.0L981.5 1173.0M981.5 1173.0L978.5 1176.0M978.5 1176.0L975.5 1179.0M975.5 1179.0L972.5 1182.0M972.5 1182.0L969.5 1185.0M969.5 1185.0L966.5 1188.0M966.5 1188.0L963.5 1191.0M963.5 1191.0L960.5 1194.0M960.5 1194.0L957.5 1197.0M957.5 1197.0L954.5 1200.0M954.5 1200.0L951.5 1203.0M951.5 1203.0L948.5 1206.0M948.5 1206.0L945.5 1209.0M945.5 1209.0L942.5 1212.0M942.5 1212.0L939.5 1215.0M939.5 1215.0L936.5 1218.0M936.5 1218.0L933.5 1221.0M933.5 1221.0L930.5 1224.0M930.5 1224.0L927.5 1227.0M1467.1 396.0L1465.0 399.0M1460.8 405.0L1458.7 408.0M1454.5 414.0L1452.4 417.0M1448.2 423.0L1446.1 426.0M1446.1 426.0L1444.0 429.0M1439.8 435.0L1437.7 438.0M1433.5 444.0L1431.4 447.0M1427.2 453.0L1425.1 456.0M1425.1 456.0L1423.0 459.0M1418.8 465.0L1416.7 468.0M1412.5 474.0L1410.4 477.0M1406.2 483.0L1404.1 486.0M1404.1 486.0L1402.0 489.0M1397.8 495.0L1395.7 498.0M1391.5 504.0L1389.4 507.0M1385.2 513.0L1383.1 516.0M1383.1 516.0L1381.0 519.0M1376.8 525.0L1374.7 528.0M1370.5 534.0L1368.4 537.0M1364.2 543.0L1362.1 546.0M1362.1 546.0L1360.0 549.0M1355.8 555.0L1353.7 558.0M1349.5 564.0L1347.4 567.0M1343.2 573.0L1341.1 576.0M1341.1 576.0L1339.0 579.0M1334.8 585.0L1332.7 588.0M1328.5 594.0L1326.4 597.0M1322.2 603.0L1320.1 606.0M1320.1 606.0L1318.0 609.0M1313.8 615.0L1311.7 618.0M1307.5 624.0L1305.4 627.0M1301.2 633.0L1299.1 636.0M1299.1 636.0L1297.0 639.0M1292.8 645.0L1290.6 648.0M1286.4 654.0L1284.3 657.0M1280.1 663.0L1278.0 666.0M1278.0 666.0L1275.9 669.0M1271.7 675.0L1269.6 678.0M1265.4 684.0L1263.3 687.0M1259.1 693.0L1257.0 696.0M1257.0 696.0L1254.9 699.0M1250.7 705.0L1248.6 708.0M1244.4 714.0L1242.3 717.0M1238.1 723.0L1236.0 726.0M1236.0 726.0L1233.9 729.0M1229.7 735.0L1227.6 738.0M1223.4 744.0L1221.3 747.0M1217.1 753.0L1215.0 756.0M1215.0 756.0L1212.9 759.0M1208.7 765.0L1206.6 768.0M1202.4 774.0L1200.3 777.0M1196.1 783.0L1194.0 786.0M1194.0 786.0L1191.9 789.0M1187.7 795.0L1185.6 798.0M1181.4 804.0L1179.3 807.0M1175.1 813.0L1173.0 816.0M1173.0 816.0L1170.9 819.0M1166.7 825.0L1164.6 828.0M1160.4 834.0L1158.3 837.0M1154.1 843.0L1152.0 846.0M1152.0 846.0L1149.9 849.0M1145.7 855.0L1143.6 858.0M1139.4 864.0L1137.3 867.0M1133.1 873.0L1131.0 876.0M1131.0 876.0L1128.9 879.0M1124.7 885.0L1122.6 888.0M1118.4 894.0L1116.3 897.0M1112.1 903.0L1110.0 906.0M1110.0 906.0L1107.9 909.0M1103.7 915.0L1101.6 918.0M1097.4 924.0L1095.3 927.0M1091.1 933.0L1089.0 936.0M1089.0 936.0L1086.9 939.0M1082.7 945.0L1080.6 948.0M1076.4 954.0L1074.3 957.0M1070.1 963.0L1068.0 966.0M1068.0 966.0L1065.9 969.0M1061.7 975.0L1059.6 978.0M1055.4 984.0L1053.3 987.0M1049.1 993.0L1047.0 996.0M1047.0 996.0L1044.9 999.0M1040.7 1005.0L1038.6 1008.0M1034.4 1014.0L1032.3 1017.0M1028.1 1023.0L1026.0 1026.0M1026.0 1026.0L1023.9 1029.0M1019.7 1035.0L1017.6 1038.0M1013.4 1044.0L1011.3 1047.0M1007.1 1053.0L1005.0 1056.0M1005.0 1056.0L1002.9 1059.0M998.7 1065.0L996.6 1068.0M992.4 1074.0L990.3 1077.0M986.1 1083.0L984.0 1086.0M984.0 1086.0L981.9 1089.0M977.7 1095.0L975.6 1098.0M971.4 1104.0L969.3 1107.0M965.1 1113.0L963.0 1116.0M963.0 1116.0L960.9 1119.0M956.7 1125.0L954.5 1128.0M950.3 1134.0L948.2 1137.0M944.0 1143.0L941.9 1146.0M941.9 1146.0L939.8 1149.0M935.6 1155.0L933.5 1158.0M929.3 1164.0L927.2 1167.0M923.0 1173.0L920.9 1176.0M920.9 1176.0L918.8 1179.0M914.6 1185.0L912.5 1188.0M908.3 1194.0L906.2 1197.0M902.0 1203.0L899.9 1206.0M804.1 1167.0L803.8 1170.0"/>
<g stroke-width="6.5">
<path d="M1936.41 1267.40L1969.28 1264.52"/>
<path d="M1901.47 1069.25L1933.34 1060.70"/>
<path d="M1832.65 880.17L1862.56 866.23"/>
<path d="M1732.05 705.92L1759.08 686.99"/>
<path d="M1602.71 551.79L1626.05 528.45"/>
<path d="M1448.58 422.45L1467.51 395.42"/>
<path d="M1274.33 321.85L1288.27 291.94"/>
<path d="M1085.25 253.03L1093.80 221.16"/>
<path d="M887.10 218.09L889.98 185.22"/>
</g>
<g stroke-width="7.6">
<path d="M980.80 1333.74L1955.76 1161.83"/>
<path d="M971.90 1300.52L1902.20 961.92"/>
<path d="M957.37 1269.35L1814.73 774.35"/>
<path d="M937.64 1241.18L1696.02 604.82"/>
<path d="M913.32 1216.86L1549.68 458.48"/>
<path d="M885.15 1197.13L1380.15 339.77"/>
<path d="M853.98 1182.60L1192.58 252.30"/>
<path d="M820.76 1173.70L992.67 198.74"/>
</g>
<g stroke-width="7.6">
<path d="M1181.80 1368.00A395.30 395.30 0 0 0 786.50 972.70"/>
<path d="M1379.80 1368.00A593.30 593.30 0 0 0 786.50 774.70"/>
<path d="M1577.80 1368.00A791.30 791.30 0 0 0 786.50 576.70"/>
<path d="M1775.80 1368.00A989.30 989.30 0 0 0 786.50 378.70"/>
<path stroke-width="6" d="M983.80 1368.00A197.30 197.30 0 0 0 786.50 1170.70"/>
</g>
<path stroke-width="8.2" d="M1973.80 1368.00A1187.30 1187.30 0 0 0 786.50 180.70"/>
<path stroke-width="8" d="M981.80 1368.00L1977.30 1368.00"/>
<path stroke-width="10.5" d="M786.50 1172.20L786.50 178.70"/>
</g>
<g>
<polyline fill="none" stroke="#515151" stroke-width="9.5" stroke-linejoin="round" points="1041.22,1368.00 1068.16,1343.36 1146.06,1304.60 1276.39,1236.73 1363.09,1158.14 1414.34,1005.52 1329.58,824.92 1132.16,769.31 929.81,833.17 787.30,1008.34"/>
<rect x="1020.97" y="1347.75" width="40.5" height="40.5" fill="#515151"/>
<rect x="1047.91" y="1323.11" width="40.5" height="40.5" fill="#515151"/>
<rect x="1125.81" y="1284.35" width="40.5" height="40.5" fill="#515151"/>
<rect x="1256.14" y="1216.48" width="40.5" height="40.5" fill="#515151"/>
<rect x="1342.84" y="1137.89" width="40.5" height="40.5" fill="#515151"/>
<rect x="1394.09" y="985.27" width="40.5" height="40.5" fill="#515151"/>
<rect x="1309.33" y="804.67" width="40.5" height="40.5" fill="#515151"/>
<rect x="1111.91" y="749.06" width="40.5" height="40.5" fill="#515151"/>
<rect x="909.56" y="812.92" width="40.5" height="40.5" fill="#515151"/>
<rect x="767.05" y="988.09" width="40.5" height="40.5" fill="#515151"/>
</g>
<g>
<polyline fill="none" stroke="#F14040" stroke-width="9.5" stroke-linejoin="round" points="1003.60,1368.00 1012.64,1348.22 1029.55,1325.14 1073.66,1291.06 1130.05,1242.96 1208.57,1124.32 1214.78,939.72 1093.05,837.04 929.42,834.60 787.30,963.79"/>
<circle cx="1003.60" cy="1368.00" r="21" fill="#F14040"/>
<circle cx="1012.64" cy="1348.22" r="21" fill="#F14040"/>
<circle cx="1029.55" cy="1325.14" r="21" fill="#F14040"/>
<circle cx="1073.66" cy="1291.06" r="21" fill="#F14040"/>
<circle cx="1130.05" cy="1242.96" r="21" fill="#F14040"/>
<circle cx="1208.57" cy="1124.32" r="21" fill="#F14040"/>
<circle cx="1214.78" cy="939.72" r="21" fill="#F14040"/>
<circle cx="1093.05" cy="837.04" r="21" fill="#F14040"/>
<circle cx="929.42" cy="834.60" r="21" fill="#F14040"/>
<circle cx="787.30" cy="963.79" r="21" fill="#F14040"/>
</g>
<g>
<polyline fill="none" stroke="#1A6FDF" stroke-width="9.5" stroke-linejoin="round" points="1003.60,1368.00 1007.71,1348.65 1015.90,1327.55 1033.11,1301.92 1062.79,1267.44 1120.78,1175.00 1139.52,1014.98 1058.40,897.06 922.12,861.85 787.30,957.85"/>
<polygon points="1003.60,1338.00 977.60,1383.00 1029.60,1383.00" fill="#1A6FDF"/>
<polygon points="1007.71,1318.65 981.71,1363.65 1033.71,1363.65" fill="#1A6FDF"/>
<polygon points="1015.90,1297.55 989.90,1342.55 1041.90,1342.55" fill="#1A6FDF"/>
<polygon points="1033.11,1271.92 1007.11,1316.92 1059.11,1316.92" fill="#1A6FDF"/>
<polygon points="1062.79,1237.44 1036.79,1282.44 1088.79,1282.44" fill="#1A6FDF"/>
<polygon points="1120.78,1145.00 1094.78,1190.00 1146.78,1190.00" fill="#1A6FDF"/>
<polygon points="1139.52,984.98 1113.52,1029.98 1165.52,1029.98" fill="#1A6FDF"/>
<polygon points="1058.40,867.06 1032.40,912.06 1084.40,912.06" fill="#1A6FDF"/>
<polygon points="922.12,831.85 896.12,876.85 948.12,876.85" fill="#1A6FDF"/>
<polygon points="787.30,927.85 761.30,972.85 813.30,972.85" fill="#1A6FDF"/>
</g>
<g>
<polyline fill="none" stroke="#37AD6B" stroke-width="9.5" stroke-linejoin="round" points="1007.07,1368.00 1011.65,1348.30 1017.85,1327.21 1029.67,1302.84 1054.60,1270.42 1085.63,1195.30 1107.32,1047.18 1039.59,929.64 917.00,880.98 787.30,960.13"/>
<polygon points="1007.07,1398.00 981.07,1353.00 1033.07,1353.00" fill="#37AD6B"/>
<polygon points="1011.65,1378.30 985.65,1333.30 1037.65,1333.30" fill="#37AD6B"/>
<polygon points="1017.85,1357.21 991.85,1312.21 1043.85,1312.21" fill="#37AD6B"/>
<polygon points="1029.67,1332.84 1003.67,1287.84 1055.67,1287.84" fill="#37AD6B"/>
<polygon points="1054.60,1300.42 1028.60,1255.42 1080.60,1255.42" fill="#37AD6B"/>
<polygon points="1085.63,1225.30 1059.63,1180.30 1111.63,1180.30" fill="#37AD6B"/>
<polygon points="1107.32,1077.18 1081.32,1032.18 1133.32,1032.18" fill="#37AD6B"/>
<polygon points="1039.59,959.64 1013.59,914.64 1065.59,914.64" fill="#37AD6B"/>
<polygon points="917.00,910.98 891.00,865.98 943.00,865.98" fill="#37AD6B"/>
<polygon points="787.30,990.13 761.30,945.13 813.30,945.13" fill="#37AD6B"/>
</g>
<g>
<polyline fill="none" stroke="#B177DE" stroke-width="9.5" stroke-linejoin="round" points="1001.62,1368.00 1007.01,1348.71 1012.98,1328.07 1016.28,1306.43 1021.67,1282.40 1032.21,1226.14 1033.12,1121.38 984.15,1025.66 894.96,963.22 787.30,1002.40"/>
<polygon points="1001.62,1339.50 1030.12,1368.00 1001.62,1396.50 973.12,1368.00" fill="#B177DE"/>
<polygon points="1007.01,1320.21 1035.51,1348.71 1007.01,1377.21 978.51,1348.71" fill="#B177DE"/>
<polygon points="1012.98,1299.57 1041.48,1328.07 1012.98,1356.57 984.48,1328.07" fill="#B177DE"/>
<polygon points="1016.28,1277.93 1044.78,1306.43 1016.28,1334.93 987.78,1306.43" fill="#B177DE"/>
<polygon points="1021.67,1253.90 1050.17,1282.40 1021.67,1310.90 993.17,1282.40" fill="#B177DE"/>
<polygon points="1032.21,1197.64 1060.71,1226.14 1032.21,1254.64 1003.71,1226.14" fill="#B177DE"/>
<polygon points="1033.12,1092.88 1061.62,1121.38 1033.12,1149.88 1004.62,1121.38" fill="#B177DE"/>
<polygon points="984.15,997.16 1012.65,1025.66 984.15,1054.16 955.65,1025.66" fill="#B177DE"/>
<polygon points="894.96,934.72 923.46,963.22 894.96,991.72 866.46,963.22" fill="#B177DE"/>
<polygon points="787.30,973.90 815.80,1002.40 787.30,1030.90 758.80,1002.40" fill="#B177DE"/>
</g>
<g>
<polyline fill="none" stroke="#CC9900" stroke-width="9.5" stroke-linejoin="round" points="1873.81,1368.00 1882.49,1272.11 1901.16,1171.45 1896.05,1070.70 1846.38,982.24 1702.42,839.20 1447.54,706.96 1161.36,718.72 923.66,856.12 787.30,1076.65"/>
<polygon points="1843.81,1368.00 1888.81,1342.00 1888.81,1394.00" fill="#CC9900"/>
<polygon points="1852.49,1272.11 1897.49,1246.11 1897.49,1298.11" fill="#CC9900"/>
<polygon points="1871.16,1171.45 1916.16,1145.45 1916.16,1197.45" fill="#CC9900"/>
<polygon points="1866.05,1070.70 1911.05,1044.70 1911.05,1096.70" fill="#CC9900"/>
<polygon points="1816.38,982.24 1861.38,956.24 1861.38,1008.24" fill="#CC9900"/>
<polygon points="1672.42,839.20 1717.42,813.20 1717.42,865.20" fill="#CC9900"/>
<polygon points="1417.54,706.96 1462.54,680.96 1462.54,732.96" fill="#CC9900"/>
<polygon points="1131.36,718.72 1176.36,692.72 1176.36,744.72" fill="#CC9900"/>
<polygon points="893.66,856.12 938.66,830.12 938.66,882.12" fill="#CC9900"/>
<polygon points="757.30,1076.65 802.30,1050.65 802.30,1102.65" fill="#CC9900"/>
</g>
<g font-weight="bold" text-anchor="middle">
<text x="787.5" y="111.7">90</text>
<text x="1001.2" y="132.0">80</text>
<text x="1210.2" y="187.3">70</text>
<text x="1445.2" y="278.4">60</text>
<text x="1621.2" y="402.9">50</text>
<text x="1774.1" y="554.9">40</text>
<text x="1897.0" y="732.2">30</text>
<text x="1988.4" y="971.9">20</text>
<text x="2045.7" y="1181.4">10</text>
<text x="2045.3" y="1395.5">0</text>
</g>
<g font-weight="bold" text-anchor="end">
<text x="728.3" y="207.5">10</text>
<text x="728.3" y="405.4">8</text>
<text x="728.3" y="603.3">6</text>
<text x="728.3" y="801.4">4</text>
<text x="728.3" y="1000.6">2</text>
<text x="728.3" y="1198.2">0</text>
</g>
<text x="1989" y="764.5"><tspan font-style="italic">ϕ</tspan><tspan x="2035" font-size="84">/</tspan><tspan x="2056.5" font-size="84">°</tspan></text>
<text x="48.5" y="169" letter-spacing="-0.3">Size: 1<tspan x="264.5">μ</tspan><tspan x="304">m</tspan></text>
<text x="48.5" y="266" letter-spacing="-0.1">Material: Graphite</text>
<text x="214" y="1064"><tspan font-style="italic">RI</tspan> /(W/sr)</text>
<rect x="546.6" y="351.3" width="2.5" height="576.6" fill="#e6e6e6"/>
<path fill="#000" fill-rule="evenodd" d="M69.5 342.4H554.8V935.9H69.5ZM77.8 351.3V927.9H549.1V351.3Z"/>
<line x1="83.5" y1="399.5" x2="260.5" y2="399.5" stroke="#515151" stroke-width="11.5" stroke-linecap="round"/>
<rect x="151.75" y="379.25" width="40.5" height="40.5" fill="#515151"/>
<text x="277.8" y="425.0" letter-spacing="-0.05">0.02kg/s</text>
<line x1="83.5" y1="495.3" x2="260.5" y2="495.3" stroke="#F14040" stroke-width="11.5" stroke-linecap="round"/>
<circle cx="172.00" cy="495.30" r="21" fill="#F14040"/>
<text x="277.8" y="520.8" letter-spacing="-0.05">0.05kg/s</text>
<line x1="83.5" y1="592.0" x2="260.5" y2="592.0" stroke="#1A6FDF" stroke-width="11.5" stroke-linecap="round"/>
<polygon points="172.00,562.00 146.00,607.00 198.00,607.00" fill="#1A6FDF"/>
<text x="277.8" y="617.5" letter-spacing="-0.05">0.08kg/s</text>
<line x1="83.5" y1="688.0" x2="260.5" y2="688.0" stroke="#37AD6B" stroke-width="11.5" stroke-linecap="round"/>
<polygon points="172.00,718.00 146.00,673.00 198.00,673.00" fill="#37AD6B"/>
<text x="277.8" y="713.5" letter-spacing="-0.05">0.1kg/s</text>
<line x1="83.5" y1="783.0" x2="260.5" y2="783.0" stroke="#B177DE" stroke-width="11.5" stroke-linecap="round"/>
<polygon points="172.00,754.50 200.50,783.00 172.00,811.50 143.50,783.00" fill="#B177DE"/>
<text x="277.8" y="808.5" letter-spacing="-0.05">0.2kg/s</text>
<line x1="83.5" y1="880.0" x2="260.5" y2="880.0" stroke="#CC9900" stroke-width="11.5" stroke-linecap="round"/>
<polygon points="142.00,880.00 187.00,854.00 187.00,906.00" fill="#CC9900"/>
<text x="277.8" y="905.5" letter-spacing="-0.05">original</text>
</svg></body></html>
